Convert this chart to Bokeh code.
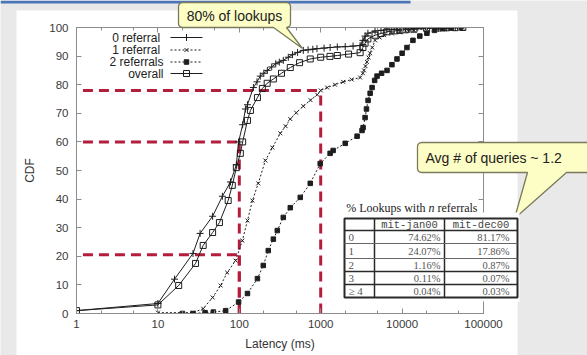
import numpy as np
from bokeh.plotting import figure
from bokeh.layouts import column
from bokeh.models import Range1d, FixedTicker, NumeralTickFormatter, LinearAxis, LogAxis
from bokeh.core.properties import value
from bokeh.embed import file_html
from bokeh.resources import INLINE

# ---------------- data ----------------
zero_ms = [1, 10, 16, 27, 33, 47, 62, 78, 92, 98, 110, 119, 126, 149, 165, 181, 200, 221, 250, 280,
           310, 347, 400, 450, 520, 611, 700, 800, 900, 1100, 1306, 1600, 2000, 2500, 3050, 3300,
           3510, 3800, 4650, 5500, 6500, 8000, 9400, 11000, 14000, 20000, 28000, 35000, 45000, 55700]
zero_cdf = [1, 3.5, 12, 21, 28, 34, 41, 46, 52, 60, 66, 71.5, 73, 79, 81, 83, 84, 85, 86.2, 87.3,
            87.9, 88.5, 89.6, 90.5, 91.3, 92, 92.2, 92.4, 92.6, 92.8, 93, 93.2, 93.3, 93.5, 93.7, 95.5,
            97, 98, 98.8, 99, 99.2, 99.3, 99.4, 99.5, 99.6, 99.8, 99.85, 99.9, 99.95, 100]

overall_ms = [1, 10, 18, 29, 36, 47, 57, 73, 82, 92, 103, 110, 126, 137, 167, 192, 220, 262, 330,
              423, 550, 744, 1000, 1300, 1600, 2200, 3050, 3300, 3510, 3800, 4650, 5500, 6500, 8000,
              9400, 11000, 14000, 20000, 28000, 35000, 45000, 55700]
overall_cdf = [1, 3, 9.8, 17.5, 23.8, 28.3, 31.8, 39.5, 44.8, 51, 56, 60, 67.5, 71, 75.5, 78.7,
               80.5, 82, 84, 86, 87.7, 89, 89.6, 89.9, 90.2, 90.7, 91.2, 93, 94.5, 96, 97.3, 97.9,
               98.5, 98.8, 99, 99.2, 99.4, 99.7, 99.8, 99.9, 99.95, 100]

one_ms = [10, 27, 36, 47, 59, 71, 90, 109, 126, 145, 171, 209, 255, 319, 370, 423, 500, 611, 750,
          906, 1000, 1202, 1500, 1887, 2400, 3050, 3300, 3400, 3550, 3700, 3870, 4045, 4300, 4656,
          5300, 6000, 7500, 9400, 12000, 14000, 20000, 28000, 35000, 55700]
one_cdf = [0.3, 0.3, 1.7, 5.6, 9.8, 14.3, 18.5, 25.5, 32.5, 39.5, 45.5, 53.5, 58, 63, 65.5, 68,
           70.2, 72.5, 74.6, 76.5, 78, 79, 80, 81, 81.8, 82.5, 84, 85, 86.5, 88, 89.5, 91, 93, 95.5,
           96.5, 97.3, 97.9, 98.3, 98.7, 99, 99.6, 99.8, 99.9, 100]

two_ms = [20, 27, 38, 48, 68, 98, 126, 167, 197, 227, 262, 293, 347, 423, 561, 744, 986, 1306, 1422,
          2000, 2800, 3220, 3316, 3510, 3650, 3819, 4050, 4277, 4600, 4923, 5600, 6527, 7500, 8650,
          10000, 11470, 13590, 16500, 20170, 25000, 31700, 40000, 51200]
two_cdf = [0, 0, 0.3, 0.5, 1, 4, 7, 12.2, 16.8, 22, 26, 29, 33.6, 37, 40.6, 45.5, 52.4, 56, 57,
           59.5, 62, 64, 65, 68.5, 71.5, 74.5, 77, 79, 81.5, 83, 84, 85, 87, 89, 91, 93, 95.5, 97,
           98, 99, 99.6, 99.8, 100]

legend_labels = ["0  referral", "1  referral", "2 referrals", "overall"]

guide_x_end = [1000, 100, 100]
guide_y = [78, 60, 20.5]
guide_x_start = 1.2

x_major_ticks = [1, 10, 100, 1000, 10000, 100000]
x_minor_ticks = [2, 5, 20, 50, 200, 500, 2000, 5000, 20000, 50000]
y_ticks = [0, 10, 20, 30, 40, 50, 60, 70, 80, 90, 100]

callout_texts = ["80% of lookups", "Avg # of queries ~ 1.2"]

table_caption = ["% Lookups with", "n", "referrals"]
table_header = ["", "mit-jan00", "mit-dec00"]
table_rows = ["0", "1", "2", "3", "\u2265 4"]
table_jan = ["74.62%", "24.07%", "1.16%", "0.11%", "0.04%"]
table_dec = ["81.17%", "17.86%", "0.87%", "0.07%", "0.03%"]

# ---------------- layout constants ----------------
W, H = 587, 355
FL, FR, FT, FB = 76, 483, 27, 313
SANS = "Liberation Sans"
SERIF = "Liberation Serif"
MONO = "Liberation Mono"
INK = "#1e1e1e"
AXC = "#8c8c8c"
RED = "#b41e3c"
OVERLAY = {"position": "absolute", "top": "0px", "left": "0px"}


def px2x(px):
    return 10 ** ((px - FL) / (FR - FL) * 5)


def py2y(py):
    return (FB - py) / (FB - FT) * 100


def canvas_fig(bg):
    f = figure(width=W, height=H, x_range=Range1d(0, W), y_range=Range1d(H, 0),
               output_backend="svg", toolbar_location=None,
               x_axis_location=None, y_axis_location=None, min_border=0,
               frame_align=False)
    f.min_border_left = f.min_border_right = f.min_border_top = f.min_border_bottom = 0
    f.grid.visible = False
    f.outline_line_color = None
    f.background_fill_color = bg
    f.border_fill_color = bg
    return f


# ---------------- layer 1: slide background ----------------
bgf = canvas_fig("#e9e9e9")
bgf.quad(left=[16], right=[517], top=[10], bottom=[360], fill_color="white", line_color=None)
bgf.quad(left=[0], right=[410], top=[0], bottom=[3], fill_color="#4a76b6", line_color=None)

# ---------------- layer 2: the chart ----------------
p = figure(width=W, height=H, x_axis_type="log",
           x_range=Range1d(1, 100000), y_range=Range1d(0, 100),
           output_backend="svg", toolbar_location=None,
           min_border_left=FL, min_border_right=W - FR,
           min_border_top=FT, min_border_bottom=H - FB, frame_align=False)
p.border_fill_color = None
p.background_fill_color = None
p.outline_line_color = AXC
p.grid.visible = False
p.styles = dict(OVERLAY)

xt = FixedTicker(ticks=x_major_ticks, minor_ticks=x_minor_ticks)
yt = FixedTicker(ticks=y_ticks)


def style_axis(ax, labels=True):
    ax.axis_line_color = AXC
    ax.major_tick_line_color = AXC
    ax.minor_tick_line_color = AXC
    ax.major_tick_in = 5
    ax.major_tick_out = 0
    ax.minor_tick_in = 3
    ax.minor_tick_out = 0
    ax.major_label_text_font = SANS
    ax.major_label_text_font_size = "11.5px"
    ax.major_label_text_color = "#3a3a3a" if labels else None
    ax.axis_label_text_font = SANS
    ax.axis_label_text_font_size = "12px"
    ax.axis_label_text_font_style = "normal"
    ax.axis_label_text_color = "#333333"


xa = p.xaxis[0]
xa.ticker = xt
xa.formatter = NumeralTickFormatter(format="0")
xa.axis_label = "Latency (ms)"
style_axis(xa)
xa.major_label_standoff = 6
xa.axis_label_standoff = 6

ya = p.yaxis[0]
ya.ticker = yt
ya.axis_label = "CDF"
style_axis(ya)
ya.major_label_standoff = 8
ya.axis_label_standoff = 9

top_ax = LogAxis(ticker=xt)
style_axis(top_ax, labels=False)
p.add_layout(top_ax, "above")
right_ax = LinearAxis(ticker=yt)
style_axis(right_ax, labels=False)
p.add_layout(right_ax, "right")

# red dashed guide lines
p.segment(x0=[guide_x_start] * 3, y0=guide_y, x1=guide_x_end, y1=guide_y,
          line_color=RED, line_width=3, line_dash="10 6")
p.segment(x0=guide_x_end, y0=[0] * 3, x1=guide_x_end, y1=guide_y,
          line_color=RED, line_width=3, line_dash="10 6")

styles = [
    dict(xs=zero_ms, ys=zero_cdf, dash="solid", marker="cross", size=7, fill=None),
    dict(xs=one_ms, ys=one_cdf, dash="2 2", marker="x", size=5.5, fill=None),
    dict(xs=two_ms, ys=two_cdf, dash="2 2", marker="square", size=4.5, fill=INK),
    dict(xs=overall_ms, ys=overall_cdf, dash="solid", marker="square", size=6, fill=None),
]
for s in styles:
    p.line(s["xs"], s["ys"], line_color=INK, line_width=1, line_dash=s["dash"])
    p.scatter(s["xs"], s["ys"], marker=s["marker"], size=s["size"], line_color=INK,
              line_width=1, fill_color=s["fill"] if s["fill"] else "white",
              fill_alpha=1 if s["fill"] else 0)

# legend (gnuplot style: text then sample)
leg_rows = [37, 49.5, 61.5, 73]
p.text(x=[px2x(163)] * 4, y=[py2y(r) for r in leg_rows], text=legend_labels,
       text_font=value(SANS), text_font_size="12px", text_color="#222222",
       text_align="right", text_baseline="middle")
for row, s in zip(leg_rows, styles):
    yy = py2y(row)
    p.line([px2x(170), px2x(202)], [yy, yy], line_color=INK, line_width=1, line_dash=s["dash"])
    p.scatter([px2x(186)], [yy], marker=s["marker"], size=s["size"], line_color=INK,
              line_width=1, fill_color=s["fill"] if s["fill"] else "white",
              fill_alpha=1 if s["fill"] else 0)

# ---------------- layer 3: callouts and table ----------------
ov = canvas_fig(None)
ov.styles = dict(OVERLAY)


def callout_pts(x0, y0, x1, y1, r, tail):
    pts = []

    def arc(cx, cy, a0, a1):
        for k in range(5):
            a = np.radians(a0 + (a1 - a0) * k / 4)
            pts.append((cx + r * np.cos(a), cy + r * np.sin(a)))
    arc(x0 + r, y0 + r, 180, 270)
    arc(x1 - r, y0 + r, 270, 360)
    arc(x1 - r, y1 - r, 0, 90)
    pts.extend(tail)
    arc(x0 + r, y1 - r, 90, 180)
    return [a for a, b in pts], [b for a, b in pts]


for xs, ys in (callout_pts(178, 2, 290, 27, 4, [(286, 27), (302, 48), (273, 27)]),
               callout_pts(417, 142, 597, 172, 4, [(566, 172), (514, 218), (527, 172)])):
    ov.patch(xs, ys, fill_color="#fdfdc6", line_color="#7a7a5c", line_width=1.3)

ov.text(x=[234], y=[15], text=[callout_texts[0]], text_font=value(SANS), text_font_size="14px",
        text_color="#222222", text_align="center", text_baseline="middle")
ov.text(x=[425], y=[157.5], text=[callout_texts[1]], text_font=value(SANS), text_font_size="14px",
        text_color="#222222", text_align="left", text_baseline="middle")

# table
col_x = [344, 374, 444, 517]
row_y = [218, 230, 243, 258, 271, 284, 297]
ov.quad(left=[343], right=[519], top=[212], bottom=[301], fill_color="white", line_color=None)
ov.quad(left=[col_x[0]], right=[col_x[-1]], top=[row_y[0]], bottom=[row_y[-1]],
        fill_color=None, line_color="#2a2a2a", line_width=2)
ov.segment(x0=col_x[1:-1], y0=[row_y[0]] * 2, x1=col_x[1:-1], y1=[row_y[-1]] * 2,
           line_color="#2a2a2a", line_width=1.5)
inner = row_y[1:-1]
ov.segment(x0=[col_x[0]] * len(inner), y0=inner, x1=[col_x[-1]] * len(inner), y1=inner,
           line_color=["#2a2a2a", "#666666", "#666666", "#2a2a2a", "#2a2a2a"],
           line_width=[1.6, 1, 1, 1.6, 1.6])


def tx(x, y, t, font, size, align, color="#333333", style="normal"):
    ov.text(x=[x], y=[y], text=[t], text_font=value(font), text_font_size=size,
            text_color=color, text_font_style=style, text_align=align, text_baseline="middle")


tx(425, 207, table_caption[0], SERIF, "12px", "right", "#222222")
tx(431, 207, table_caption[1], SERIF, "12px", "center", "#222222", "italic")
tx(437, 207, table_caption[2], SERIF, "12px", "left", "#222222")
hy = (row_y[0] + row_y[1]) / 2
tx((col_x[1] + col_x[2]) / 2, hy, table_header[1], MONO, "10.5px", "center", "#444444")
tx((col_x[2] + col_x[3]) / 2, hy, table_header[2], MONO, "10.5px", "center", "#444444")
for i in range(len(table_rows)):
    cy = (row_y[i + 1] + row_y[i + 2]) / 2
    tx(col_x[0] + 4, cy, table_rows[i], SERIF, "11px", "left", "#555555")
    tx(col_x[2] - 4, cy, table_jan[i], SERIF, "10.5px", "right", "#555555")
    tx(col_x[3] - 8, cy, table_dec[i], SERIF, "10.5px", "right", "#555555")

layout = column(bgf, p, ov)
open("out.html", "w").write(file_html(layout, INLINE))
